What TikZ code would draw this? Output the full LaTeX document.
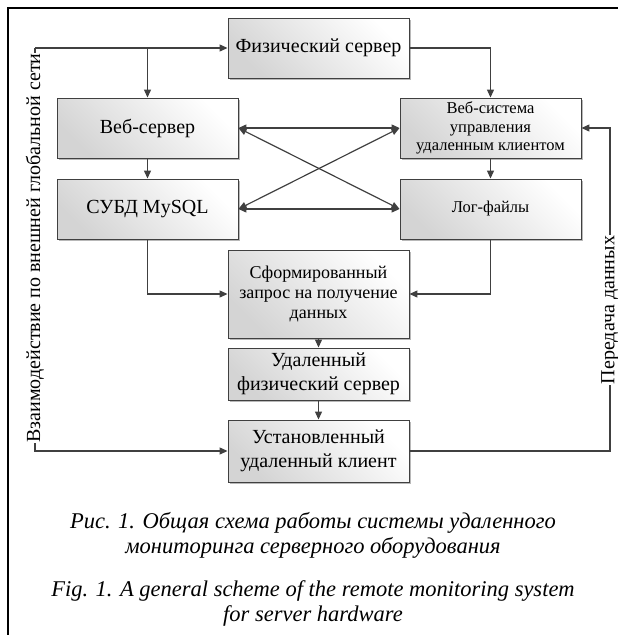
\documentclass[tikz,border=0pt]{standalone}
\usepackage{fontspec}
\setmainfont{Liberation Serif}
\usetikzlibrary{arrows.meta,shadows,positioning}

\definecolor{linegray}{HTML}{404040}
\definecolor{boxgray}{HTML}{D4D4D4}

\tikzset{
  block/.style={draw=linegray, line width=0.9pt, rectangle,
    minimum width=181pt, align=center, inner sep=2pt,
    left color=white, right color=boxgray, shading angle=-45,
    drop shadow={shadow xshift=1.6pt, shadow yshift=-1.6pt, fill=black!35, opacity=0.8}},
  bigtext/.style={font=\fontsize{20}{24}\selectfont},
  midtext/.style={font=\fontsize{18}{20}\selectfont},
  smalltext/.style={font=\fontsize{16.5}{18.5}\selectfont},
  conn/.style={draw=linegray, line width=1.2pt},
  arr/.style={conn, -{Triangle[length=8pt,width=7pt]}},
  arrboth/.style={conn, {Triangle[length=8pt,width=7pt]}-{Triangle[length=8pt,width=7pt]}},
  sidelabel/.style={font=\fontsize{20}{22}\selectfont, fill=white, inner sep=0.5pt, rotate=90},
  caption/.style={font=\fontsize{22.5}{25}\selectfont\itshape, align=center}
}

\begin{document}
\begin{tikzpicture}[x=1pt,y=-1pt]
\useasboundingbox (0,0) rectangle (618,635);

% outer frame (top and left rules)
\draw[line width=1.2pt] (8,635) -- (8,8) -- (618,8);

% blocks
\node[block, bigtext, minimum height=60pt] (fs) at (318.5,48) {Физический сервер};
\node[block, bigtext, minimum height=60pt] (ws) at (147.5,128) {Веб-сервер};
\node[block, smalltext, minimum height=60pt] (wsys) at (490.5,128) {Веб-система\\управления\\удаленным клиентом};
\node[block, bigtext, minimum height=60pt] (db) at (147.5,209) {СУБД MySQL};
\node[block, smalltext, minimum height=60pt] (log) at (490.5,209) {Лог-файлы};
\node[block, midtext, minimum height=88pt] (req) at (318.5,294) {Сформированный\\запрос на получение\\данных};
\node[block, bigtext, minimum height=52pt] (rfs) at (318.5,374) {Удаленный\\физический сервер};
\node[block, bigtext, minimum height=62pt] (inst) at (318.5,451) {Установленный\\удаленный клиент};

% corner points of the outer loops
\coordinate (tl) at (35,48);
\coordinate (tr) at (610,128);

% links from the physical server
\draw[arr] (tl) -- (fs.west);
\draw[arr] (ws.north |- fs.west) -- (ws.north);
\draw[arr] (fs.east) -| (wsys.north);

% left loop down to the installed client
\draw[arr] (tl) |- (inst.west);

% web layer
\draw[arrboth] (ws.east) -- (wsys.west);
\draw[arrboth] (ws.east) -- (log.west);
\draw[arrboth] (db.east) -- (wsys.west);
\draw[arrboth] (db.east) -- (log.west);
\draw[arr] (ws.south) -- (db.north);
\draw[arr] (wsys.south) -- (log.north);

% query building
\draw[arr] (db.south) |- (req.west);
\draw[arr] (log.south) |- (req.east);
\draw[arr] (req.south) -- (rfs.north);
\draw[arr] (rfs.south) -- (inst.north);

% data transfer back to the web system
\draw[arr] (inst.east) -| (tr) -- (wsys.east);

% labels set on the vertical lines
\node[sidelabel] (lbl) at (35,248) {Взаимодействие по внешней глобальной сети};
\node[sidelabel] (lbr) at (610,310) {Передача данных};

% captions
\node[caption] (cap1) at (313,535) {Рис. 1. Общая схема работы системы удаленного\\мониторинга серверного оборудования};
\node[caption] (cap2) at (313,603) {Fig. 1. A general scheme of the remote monitoring system\\for server hardware};
\end{tikzpicture}
\end{document}
